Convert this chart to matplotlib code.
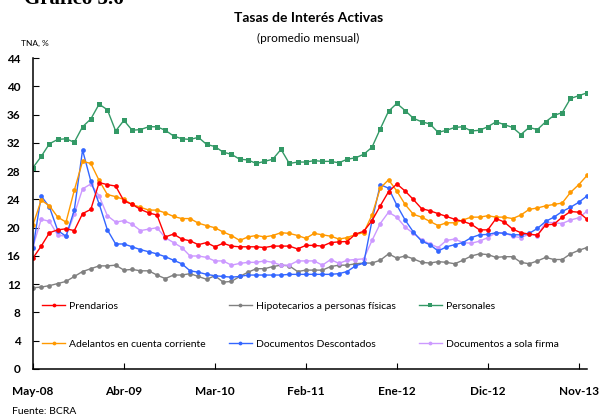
import matplotlib
matplotlib.use("Agg")
import matplotlib.pyplot as plt
import numpy as np

# ---------------------------------------------------------------------------
# DATA  (monthly, May-08 .. Dec-13, TNA %)
# ---------------------------------------------------------------------------
tick_labels = ["May-08", "Abr-09", "Mar-10", "Feb-11", "Ene-12", "Dic-12", "Nov-13"]

prendarios = [15.7, 17.4, 19.3, 19.7, 19.85, 19.6, 22.0, 22.6, 26.4, 26.1, 25.9, 23.8,
              23.3, 22.6, 22.1, 21.8, 18.7, 19.1, 18.4, 18.15, 17.6, 17.9, 17.3, 17.8,
              17.4, 17.3, 17.3, 17.3, 17.2, 17.4, 17.4, 17.4, 17.0, 17.5, 17.5, 17.4,
              17.9, 18.0, 18.05, 19.1, 19.5, 21.0, 23.1, 25.1, 26.2, 25.2, 24.0, 22.7,
              22.4, 22.0, 21.6, 21.2, 20.9, 20.5, 19.7, 19.7, 21.3, 20.8, 19.8, 19.3,
              19.1, 18.95, 20.4, 20.5, 21.5, 22.3, 22.2, 21.2]

hipotecarios = [11.5, 11.6, 11.8, 12.1, 12.4, 13.1, 13.8, 14.2, 14.6, 14.6, 14.7, 14.0,
                14.1, 13.9, 13.9, 13.3, 12.8, 13.3, 13.3, 13.5, 13.1, 12.7, 13.2, 12.3,
                12.4, 13.1, 13.7, 14.2, 14.2, 14.5, 14.7, 14.6, 13.8, 14.0, 14.0, 14.0,
                14.5, 14.7, 14.7, 14.9, 15.0, 15.0, 15.4, 16.3, 15.7, 16.0, 15.6, 15.1,
                15.0, 15.2, 15.1, 14.9, 15.4, 16.0, 16.3, 16.2, 15.8, 15.9, 15.9, 15.1,
                14.9, 15.3, 15.8, 15.5, 15.5, 16.3, 16.8, 17.2]

personales = [28.5, 30.1, 31.9, 32.5, 32.6, 32.1, 34.3, 35.4, 37.5, 36.7, 33.7, 35.2,
              33.8, 33.9, 34.3, 34.3, 33.8, 33.0, 32.6, 32.5, 32.8, 31.8, 31.5, 30.7,
              30.4, 29.7, 29.6, 29.1, 29.4, 29.7, 31.1, 29.1, 29.3, 29.3, 29.5, 29.4,
              29.4, 29.2, 29.7, 29.9, 30.4, 31.4, 34.0, 36.5, 37.6, 36.6, 35.5, 35.0,
              34.7, 33.5, 33.8, 34.2, 34.3, 33.7, 33.8, 34.3, 35.0, 34.6, 34.2, 33.2,
              34.2, 33.9, 35.0, 35.9, 36.3, 38.3, 38.7, 39.1]

adelantos = [20.4, 23.9, 23.1, 21.5, 20.8, 25.3, 29.4, 29.1, 26.7, 24.7, 24.4, 24.0,
             23.3, 22.9, 22.5, 22.5, 22.1, 21.6, 21.3, 21.3, 20.65, 20.3, 20.0, 19.4,
             18.9, 18.2, 18.7, 18.9, 18.7, 18.9, 19.3, 19.2, 18.9, 18.5, 19.2, 19.0,
             18.8, 18.4, 18.6, 19.05, 19.3, 21.8, 25.6, 26.8, 25.2, 23.3, 21.9, 21.5,
             20.9, 20.3, 20.7, 20.7, 21.1, 21.5, 21.5, 21.7, 21.5, 21.5, 21.3, 21.8,
             22.6, 22.8, 23.1, 23.3, 23.5, 25.0, 26.1, 27.4]

descontados = [17.1, 24.5, 22.9, 19.6, 18.8, 22.5, 31.0, 26.6, 23.4, 19.7, 17.7, 17.7,
               17.3, 16.9, 16.6, 16.3, 15.9, 15.4, 14.9, 13.9, 13.7, 13.4, 13.2, 13.1,
               13.0, 13.1, 13.3, 13.3, 13.3, 13.3, 13.3, 13.4, 13.4, 13.4, 13.4, 13.4,
               13.4, 13.5, 13.8, 14.6, 15.0, 21.0, 26.1, 25.6, 23.2, 21.1, 19.4, 18.1,
               17.6, 16.7, 17.3, 17.6, 17.9, 18.6, 19.0, 19.05, 19.3, 19.2, 19.0, 19.0,
               19.2, 19.9, 20.9, 21.5, 22.3, 22.9, 23.6, 24.5]

sola_firma = [17.3, 21.2, 20.9, 18.95, 18.8, 21.9, 25.5, 26.2, 24.5, 21.7, 20.8, 21.0,
              20.5, 19.6, 19.8, 20.0, 18.6, 17.9, 17.2, 16.0, 16.0, 15.8, 15.3, 15.3,
              14.7, 14.95, 15.1, 15.1, 15.3, 15.1, 14.7, 14.7, 15.3, 15.3, 15.3, 14.7,
              15.5, 14.95, 15.4, 15.5, 15.6, 18.2, 20.6, 22.2, 21.5, 20.1, 19.2, 18.3,
              17.7, 17.2, 18.2, 18.4, 17.9, 17.8, 18.1, 18.6, 19.3, 19.3, 18.8, 18.6,
              19.1, 18.9, 20.8, 20.7, 20.6, 21.1, 21.4, 22.35]

# ---------------------------------------------------------------------------
# PLOT
# ---------------------------------------------------------------------------
plt.rcParams["font.family"] = ["Lato", "DejaVu Sans"]

fig = plt.figure(figsize=(5.99, 4.16), dpi=100)
ax = fig.add_axes([0.055, 0.113, 0.925, 0.747])

x = np.arange(len(prendarios))

series = [
    (prendarios, "Prendarios", "#ff0000", "o"),
    (adelantos, "Adelantos en cuenta corriente", "#ff9900", "o"),
    (hipotecarios, "Hipotecarios a personas físicas", "#808080", "o"),
    (descontados, "Documentos Descontados", "#3366ff", "o"),
    (personales, "Personales", "#339966", "s"),
    (sola_firma, "Documentos a sola firma", "#cc99ff", "o"),
]

# draw order: back to front similar to the original
draw_order = [4, 2, 5, 3, 1, 0]
handles = {}
for k in draw_order:
    vals, label, color, marker = series[k]
    (h,) = ax.plot(x, vals, color=color, marker=marker, markersize=3.6 if marker == "s" else 3.4,
                   linewidth=1.0, label=label, markeredgewidth=0)
    handles[k] = h

ax.set_xlim(0, len(prendarios) - 1)
ax.set_ylim(0, 44)
ax.set_yticks(range(0, 45, 4))
ax.set_xticks(range(0, 67, 11))
ax.set_xticklabels(tick_labels)

for s in ["top", "right"]:
    ax.spines[s].set_visible(False)
for s in ["left", "bottom"]:
    ax.spines[s].set_linewidth(1.1)

ax.tick_params(axis="y", direction="in", length=4, pad=9, labelsize=8.5)
ax.tick_params(axis="x", direction="in", length=4, pad=12, labelsize=8.5)
for lab in ax.get_xticklabels() + ax.get_yticklabels():
    lab.set_fontweight("bold")

leg = ax.legend([handles[k] for k in range(6)], [series[k][1] for k in range(6)],
                ncol=3, loc="lower left", bbox_to_anchor=(0.0, 0.035), frameon=False,
                fontsize=7.5, markerscale=0.8, handlelength=2.2, handletextpad=0.4,
                columnspacing=2.2, labelspacing=2.75)

fig.text(0.515, 0.957, "Tasas de Interés Activas", ha="center", va="center",
         fontsize=10, fontweight="bold")
fig.text(0.515, 0.907, "(promedio mensual)", ha="center", va="center", fontsize=8.5)
fig.text(0.035, 0.895, "TNA, %", ha="left", va="center", fontsize=6)
fig.text(0.04, 0.99, "Gráfico 3.6", ha="left", va="baseline", fontsize=15,
         fontweight="bold", family="Liberation Serif")
fig.text(0.02, 0.012, "Fuente: BCRA", ha="left", va="center", fontsize=7.5)

fig.savefig("out.png", dpi=100)
